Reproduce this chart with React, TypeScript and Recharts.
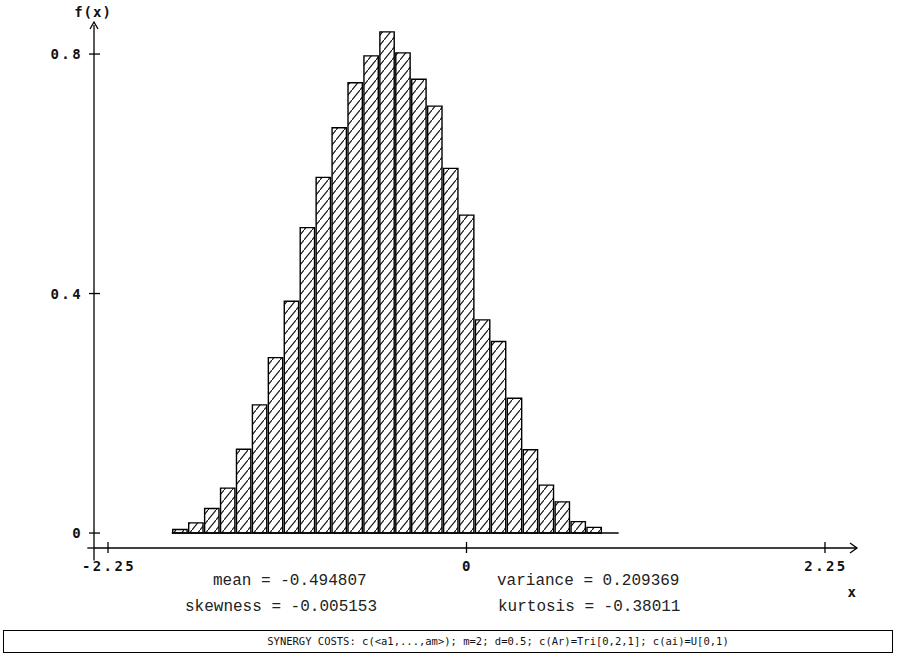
import { BarChart, Bar, XAxis, YAxis, ReferenceLine } from "recharts";

// histogram bins (centres) and density heights
const binCenters = [
  -1.8, -1.7, -1.6, -1.5, -1.4, -1.3, -1.2, -1.1, -1.0, -0.9, -0.8, -0.7, -0.6, -0.5,
  -0.4, -0.3, -0.2, -0.1, 0.0, 0.1, 0.2, 0.3, 0.4, 0.5, 0.6, 0.7, 0.8,
];
const densities = [
  0.006, 0.017, 0.041, 0.075, 0.14, 0.214, 0.293, 0.387, 0.51, 0.594, 0.677, 0.752, 0.797, 0.837,
  0.802, 0.758, 0.713, 0.609, 0.531, 0.356, 0.32, 0.225, 0.139, 0.08, 0.052, 0.019, 0.0095,
];
const xTicks = [-2.25, 0, 2.25];
const yTicks = [0, 0.4, 0.8];
const xDomain = [-2.338, 2.451];
const yDomain = [-0.025, 0.8485];

const statsRow1 = ["mean = -0.494807", "variance = 0.209369"];
const statsRow2 = ["skewness = -0.005153", "kurtosis = -0.38011"];
const footer = "SYNERGY COSTS: c(<a1,...,am>); m=2; d=0.5; c(Ar)=Tri[0,2,1]; c(ai)=U[0,1)";

const data = binCenters.map((x, i) => ({ x, f: densities[i] }));

const axisFont = {
  fontFamily: "'DejaVu Sans Mono', monospace",
  fontWeight: 700,
  fontSize: 14,
  letterSpacing: 2.4,
};
const statFont = { fontFamily: "'Liberation Mono', 'DejaVu Sans Mono', monospace", fontSize: 16 };

const fmt = (v: number) => (v === 0 ? "0" : String(v));

function XTick(props: any) {
  const { x, y, payload } = props;
  return (
    <g>
      <line x1={x} x2={x} y1={y - 6} y2={y + 5} stroke="#000" strokeWidth={1.3} />
      <text x={x + 1} y={y + 23} textAnchor="middle" fill="#111" style={axisFont}>
        {fmt(payload.value)}
      </text>
    </g>
  );
}

function YTick(props: any) {
  const { x, y, payload } = props;
  return (
    <g>
      <line x1={x - 5} x2={x + 6} y1={y} y2={y} stroke="#000" strokeWidth={1.3} />
      <text x={x - 11} y={y + 5} textAnchor="end" fill="#111" style={axisFont}>
        {fmt(payload.value)}
      </text>
    </g>
  );
}

export default function App() {
  return (
    <div style={{ position: "absolute", left: 0, top: 0, width: 897, height: 655, background: "#fff" }}>
      <BarChart
        width={897}
        height={655}
        data={data}
        margin={{ top: 25, right: 40, bottom: 77, left: 34 }}
        barCategoryGap={0}
      >
        <defs>
          <pattern id="hatch" patternUnits="userSpaceOnUse" width={8} height={10}>
            <rect width={8} height={10} fill="#fff" />
            <path d="M-0.8,11 L8.8,-1" stroke="#111" strokeWidth={1.1} />
          </pattern>
        </defs>
        <XAxis
          dataKey="x"
          type="number"
          domain={xDomain}
          ticks={xTicks}
          tickSize={0}
          tickMargin={0}
          height={30}
          axisLine={{ stroke: "#000", strokeWidth: 1.3 }}
          tick={(p: any) => <XTick {...p} />}
          allowDataOverflow
        />
        <YAxis
          type="number"
          domain={yDomain}
          ticks={yTicks}
          tickSize={0}
          tickMargin={0}
          width={60}
          axisLine={{ stroke: "#000", strokeWidth: 1.3 }}
          tick={(p: any) => <YTick {...p} />}
          allowDataOverflow
        />
        <Bar
          dataKey="f"
          barSize={16}
          fill="url(#hatch)"
          stroke="#000"
          strokeWidth={1.4}
          isAnimationActive={false}
        />
        <ReferenceLine
          segment={[{ x: -1.85, y: 0 }, { x: 0.955, y: 0 }]}
          stroke="#000"
          strokeWidth={1.4}
          ifOverflow="visible"
        />
        <ReferenceLine
          segment={[{ x: xDomain[0], y: -0.025 }, { x: xDomain[0], y: -0.046 }]}
          stroke="#000"
          strokeWidth={1.3}
          ifOverflow="visible"
        />
        <ReferenceLine
          segment={[{ x: -2.38, y: -0.025 }, { x: xDomain[0], y: -0.025 }]}
          stroke="#000"
          strokeWidth={1.3}
          ifOverflow="visible"
        />
      </BarChart>
      <svg
        width={897}
        height={655}
        style={{ position: "absolute", left: 0, top: 0, pointerEvents: "none" }}
      >
        {/* axis arrows */}
        <path d="M90,29 L94,22 L98,29" fill="none" stroke="#000" strokeWidth={1.3} />
        <path d="M850,543 L857,548 L850,553" fill="none" stroke="#000" strokeWidth={1.3} />
        <text x={93} y={17} textAnchor="middle" fill="#111" style={{ ...axisFont, letterSpacing: 1 }}>
          f(x)
        </text>
        <text x={853} y={597} textAnchor="middle" fill="#111" style={axisFont}>
          x
        </text>
        {/* summary statistics */}
        <text x={213} y={585} fill="#222" style={statFont}>{statsRow1[0]}</text>
        <text x={497} y={585} fill="#222" style={statFont}>{statsRow1[1]}</text>
        <text x={185} y={611} fill="#222" style={statFont}>{statsRow2[0]}</text>
        <text x={498} y={611} fill="#222" style={statFont}>{statsRow2[1]}</text>
        {/* footer box */}
        <rect x={3.5} y={630.5} width={889} height={22} fill="none" stroke="#000" strokeWidth={1} />
        <text
          x={498}
          y={645}
          textAnchor="middle"
          fill="#111"
          style={{ fontFamily: "'DejaVu Sans Mono', monospace", fontSize: 10.5 }}
        >
          {footer}
        </text>
      </svg>
    </div>
  );
}
